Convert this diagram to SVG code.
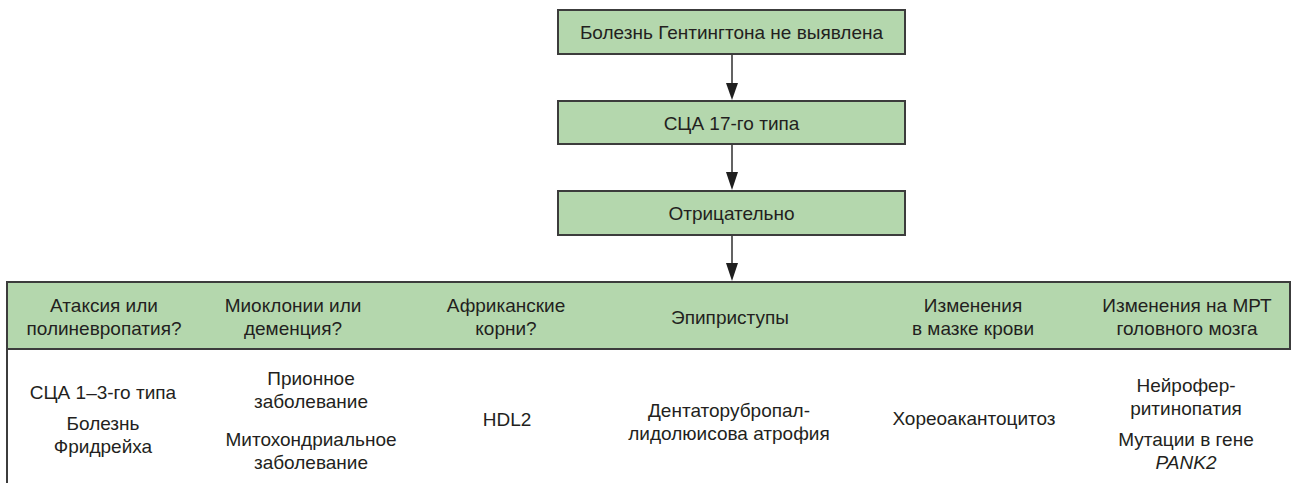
<svg xmlns="http://www.w3.org/2000/svg" width="1291" height="483" viewBox="0 0 1291 483">
  <style>
    .box { fill: #b4d7ad; stroke: #3c3c3c; stroke-width: 2; }
    .rule { stroke: #3c3c3c; stroke-width: 2; fill: none; }
    .edge { stroke: #3c3c3c; stroke-width: 1.6; fill: none; }
    text { font-family: "Liberation Sans", Arial, sans-serif; font-size: 19px; fill: #231f20; text-anchor: middle; }
    .it { font-style: italic; }
  </style>
  <defs>
    <marker id="arrow" viewBox="0 0 12 17" refX="6" refY="17" markerWidth="12" markerHeight="17" markerUnits="userSpaceOnUse" orient="auto-start-reverse">
      <path d="M0,0 L12,0 L6,17 Z" fill="#1f1f1f"/>
    </marker>
  </defs>

  <!-- flow boxes -->
  <g id="node-hd-negative">
    <rect class="box" x="558" y="10" width="347" height="44"/>
    <text x="731.5" y="39">Болезнь Гентингтона не выявлена</text>
  </g>
  <g id="node-sca17">
    <rect class="box" x="558" y="101" width="347" height="43"/>
    <text x="731.5" y="129.5">СЦА 17-го типа</text>
  </g>
  <g id="node-negative">
    <rect class="box" x="558" y="191" width="347" height="44"/>
    <text x="731.5" y="220">Отрицательно</text>
  </g>

  <!-- connectors -->
  <g id="connectors">
    <line class="edge" x1="732" y1="55" x2="732" y2="85"/>
    <path d="M726,83 L738,83 L732,100 Z" fill="#1f1f1f"/>
    <line class="edge" x1="732" y1="145" x2="732" y2="174"/>
    <path d="M726,172 L738,172 L732,190 Z" fill="#1f1f1f"/>
    <line class="edge" x1="732" y1="236" x2="732" y2="265"/>
    <path d="M726,263 L738,263 L732,281 Z" fill="#1f1f1f"/>
  </g>

  <!-- criteria table -->
  <g id="table">
    <rect class="box" x="7" y="282" width="1283" height="67"/>
    <line class="rule" x1="7" y1="282" x2="7" y2="483"/>
  </g>

  <g id="col-ataxia">
    <text x="104" y="312">Атаксия или</text>
    <text x="104" y="335">полиневропатия?</text>
    <text x="103" y="399">СЦА 1–3-го типа</text>
    <text x="103" y="430">Болезнь</text>
    <text x="103" y="453">Фридрейха</text>
  </g>
  <g id="col-myoclonus">
    <text x="293" y="312">Миоклонии или</text>
    <text x="293" y="335">деменция?</text>
    <text x="311" y="385">Прионное</text>
    <text x="311" y="408">заболевание</text>
    <text x="311" y="446">Митохондриальное</text>
    <text x="311" y="469">заболевание</text>
  </g>
  <g id="col-african">
    <text x="506" y="312">Африканские</text>
    <text x="506" y="335">корни?</text>
    <text x="507" y="426">HDL2</text>
  </g>
  <g id="col-seizures">
    <text x="730" y="324">Эпиприступы</text>
    <text x="729" y="417">Дентаторубропал-</text>
    <text x="729" y="440">лидолюисова атрофия</text>
  </g>
  <g id="col-blood">
    <text x="973" y="312">Изменения</text>
    <text x="973" y="335">в мазке крови</text>
    <text x="974" y="425">Хореоакантоцитоз</text>
  </g>
  <g id="col-mri">
    <text x="1187" y="312">Изменения на МРТ</text>
    <text x="1187" y="335">головного мозга</text>
    <text x="1186" y="392">Нейрофер-</text>
    <text x="1186" y="415">ритинопатия</text>
    <text x="1186" y="446">Мутации в гене</text>
    <text class="it" x="1186" y="469">PANK2</text>
  </g>
</svg>
